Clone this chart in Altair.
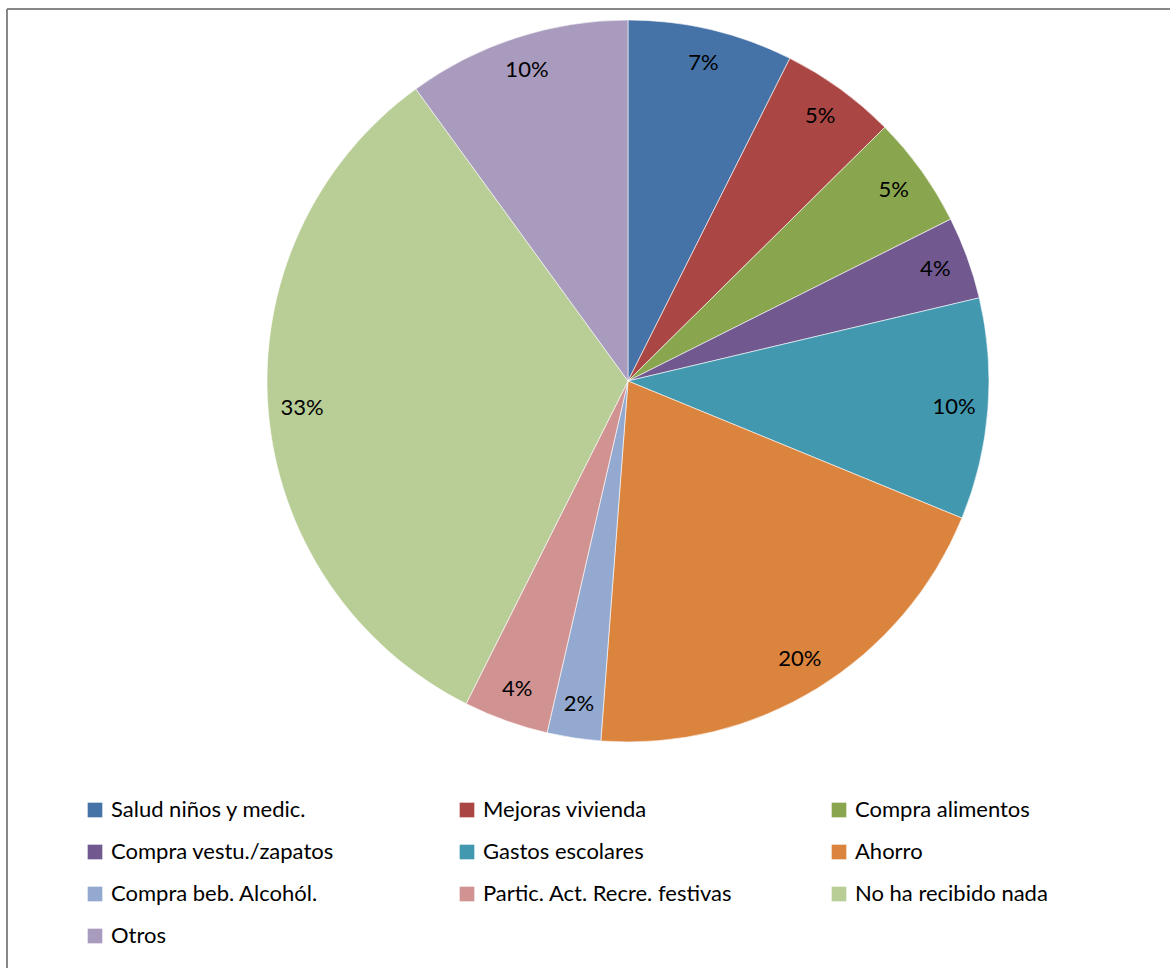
import altair as alt
import pandas as pd

categories = [
    "Salud niños y medic.",
    "Mejoras vivienda",
    "Compra alimentos",
    "Compra vestu./zapatos",
    "Gastos escolares",
    "Ahorro",
    "Compra beb. Alcohól.",
    "Partic. Act. Recre. festivas",
    "No ha recibido nada",
    "Otros",
]
values = [7.4, 5.2, 5.0, 3.7, 9.9, 20.0, 2.4, 3.8, 32.6, 10.0]
colors = [
    "#4572A7", "#AA4643", "#89A54E", "#71588F", "#4198AF",
    "#DB843D", "#93A9CF", "#D19392", "#B9CD96", "#A99BBD",
]

df = pd.DataFrame({
    "cat": categories,
    "value": values,
    "idx": list(range(len(categories))),
})
df["label"] = [f"{round(v):.0f}%" for v in values]

W, H = 1163, 959
CX, CY, R = 621, 372, 361
FONT = "Lato"

color = alt.Color(
    "cat:N",
    scale=alt.Scale(domain=categories, range=colors),
    legend=alt.Legend(
        title=None,
        orient="none",
        direction="horizontal",
        legendX=77,
        legendY=790,
        columns=3,
        gridAlign="all",
        columnPadding=95,
        rowPadding=20,
        symbolType="square",
        symbolSize=215,
        symbolStrokeWidth=0,
        labelOffset=5,
        labelFont=FONT,
        labelFontSize=22,
        labelColor="#000000",
        labelLimit=500,
        padding=0,
    ),
)

base = alt.Chart(df).encode(
    theta=alt.Theta("value:Q", stack=True),
    order=alt.Order("idx:Q"),
)

pie = base.mark_arc(radius=R, stroke="white", strokeWidth=0.6).encode(
    color=color,
    x=alt.value(CX),
    y=alt.value(CY),
)

labels = base.mark_text(
    radius=327, font=FONT, fontSize=22, color="#000000",
    align="center", baseline="middle",
).encode(
    text="label:N",
    x=alt.value(CX),
    y=alt.value(CY),
)

frame_data = alt.Data(values=[{"k": 1}])
top_line = alt.Chart(frame_data).mark_rule(color="#878787", strokeWidth=2).encode(
    x=alt.value(0), x2=alt.value(W), y=alt.value(0)
)
left_line = alt.Chart(frame_data).mark_rule(color="#878787", strokeWidth=2).encode(
    x=alt.value(0), y=alt.value(0), y2=alt.value(H)
)

chart = alt.layer(pie, labels, top_line, left_line).properties(
    width=W,
    height=H,
    autosize=alt.AutoSizeParams(type="none"),
    padding={"left": 7, "top": 9, "right": 0, "bottom": 0},
).configure_view(stroke=None)

chart.save("out.html", embed_options={"renderer": "svg", "actions": False})
